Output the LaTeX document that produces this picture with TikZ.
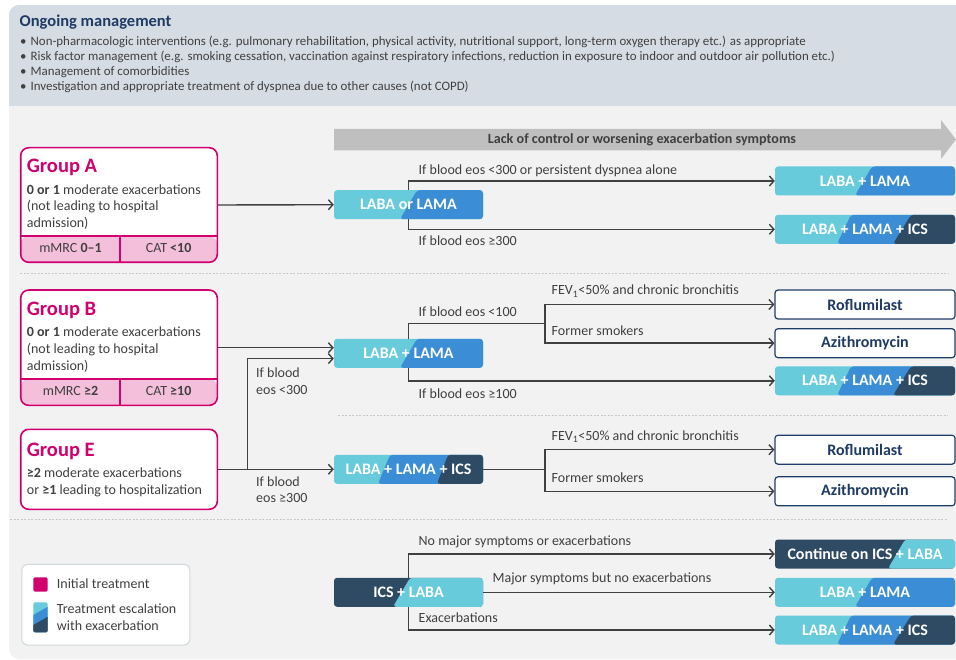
\documentclass[tikz,border=0pt]{standalone}
\usepackage{fontspec}
\setmainfont{Carlito}
\usetikzlibrary{arrows.meta,calc}
\definecolor{bggray}{HTML}{F2F2F2}
\definecolor{headblue}{HTML}{D6DCE4}
\definecolor{titleblue}{HTML}{1F3B64}
\definecolor{mag}{HTML}{D0006F}
\definecolor{pinkstrip}{HTML}{F4BFDB}
\definecolor{cyanc}{HTML}{68CBDC}
\definecolor{bluec}{HTML}{3B8ED5}
\definecolor{navyc}{HTML}{2F4A63}
\definecolor{navyline}{HTML}{1F3D6B}
\definecolor{textgray}{HTML}{404040}
\definecolor{bannergray}{HTML}{BFBFBF}
\definecolor{dashgray}{HTML}{C8C8C8}
\definecolor{legline}{HTML}{D0D8DC}
\tikzset{
  tb/.style={rounded corners=3pt, minimum width=149pt, minimum height=29pt, inner sep=0pt,
    text=white, font=\bfseries\fontsize{16}{18}\selectfont},
  rb/.style={tb, minimum width=180pt},
  wb/.style={rb, fill=white, draw=navyline, line width=1.2pt, text=titleblue},
  splittwo/.style n args={4}{path picture={
    \fill[#1] (path picture bounding box.south west) rectangle (path picture bounding box.north east);
    \fill[#2] ([xshift=#3pt]path picture bounding box.south west) -- ([xshift=#4pt]path picture bounding box.north west)
      -- ([xshift=2pt]path picture bounding box.north east) -- ([xshift=2pt]path picture bounding box.south east) -- cycle;}},
  splitthree/.style n args={4}{path picture={
    \fill[cyanc] (path picture bounding box.south west) rectangle (path picture bounding box.north east);
    \fill[bluec] ([xshift=#1pt]path picture bounding box.south west) -- ([xshift=#2pt]path picture bounding box.north west)
      -- ([xshift=2pt]path picture bounding box.north east) -- ([xshift=2pt]path picture bounding box.south east) -- cycle;
    \fill[navyc] ([xshift=#3pt]path picture bounding box.south west) -- ([xshift=#4pt]path picture bounding box.north west)
      -- ([xshift=2pt]path picture bounding box.north east) -- ([xshift=2pt]path picture bounding box.south east) -- cycle;}},
  grp/.style={draw=mag, line width=1.6pt, fill=white, rounded corners=8pt, minimum width=196.6pt, inner sep=0pt},
  strip/.style={path picture={
    \fill[pinkstrip] (path picture bounding box.south west) rectangle ([yshift=#1pt]path picture bounding box.south east);
    \draw[mag, line width=1.6pt] ([yshift=#1pt]path picture bounding box.south west) -- ([yshift=#1pt]path picture bounding box.south east);
    \draw[mag, line width=1.6pt] ([xshift=1pt]path picture bounding box.south) -- ([xshift=1pt,yshift=#1pt]path picture bounding box.south);}},
  gtitle/.style={anchor=base west, inner sep=0pt, text=mag, font=\bfseries\fontsize{20.5}{22}\selectfont},
  gtext/.style={anchor=base west, inner sep=0pt, text=textgray, font=\fontsize{14}{16}\selectfont},
  stext/.style={anchor=base, inner sep=0pt, text=textgray, font=\fontsize{14}{16}\selectfont},
  lab/.style={anchor=base west, inner sep=0pt, text=textgray, font=\fontsize{14}{16}\selectfont},
  htext/.style={anchor=base west, inner sep=0pt, text=textgray, font=\fontsize{12.9}{14}\selectfont},
  arr/.style={draw=textgray, line width=1.4pt, -{Straight Barb[length=4.5pt,width=10pt,line width=1.4pt]}},
  ln/.style={draw=textgray, line width=1.4pt},
  sep/.style={draw=dashgray, line width=0.8pt, dash pattern=on 2pt off 1.5pt},
}
\begin{document}
\begin{tikzpicture}[x=1pt,y=-1pt]
\useasboundingbox (0,0) rectangle (956,660);
\clip (0,0) rectangle (956,660);
% background
\fill[bggray, rounded corners=10pt] (9,5) rectangle (975,659);
\begin{scope}
  \clip[rounded corners=10pt] (9,5) rectangle (975,659);
  \fill[headblue] (9,5) rectangle (975,106);
\end{scope}
% header
\node[anchor=base west, inner sep=0pt, text=titleblue, font=\bfseries\fontsize{16.5}{18}\selectfont] (hd) at (19.5,26.7) {Ongoing management};
\node[htext] (h1) at (20,46) {\textbullet\hspace{4pt}Non-pharmacologic interventions (e.g. pulmonary rehabilitation, physical activity, nutritional support, long-term oxygen therapy etc.) as appropriate};
\node[htext] (h2) at (20,61) {\textbullet\hspace{4pt}Risk factor management (e.g. smoking cessation, vaccination against respiratory infections, reduction in exposure to indoor and outdoor air pollution etc.)};
\node[htext] (h3) at (20,75.5) {\textbullet\hspace{4pt}Management of comorbidities};
\node[htext] (h4) at (20,90.7) {\textbullet\hspace{4pt}Investigation and appropriate treatment of dyspnea due to other causes (not COPD)};
% banner
\fill[bannergray] (334,129) -- (941,129) -- (941,120) -- (956,139.5) -- (941,159) -- (941,150.5) -- (334,150.5) -- cycle;
\node[inner sep=0pt, text=textgray, font=\bfseries\fontsize{14.1}{15}\selectfont] (bn) at (642,140) {Lack of control or worsening exacerbation symptoms};
% separators
\draw[sep] (20,273) -- (948,273);
\draw[sep] (338,415.7) -- (948,415.7);
\draw[sep] (10,519) -- (948,519);

% ---------- Group A ----------
\node[grp, minimum height=114.6pt, strip=26.3] (gA) at (119,205) {};
\node[gtitle] (gAt) at (26.7,173) {Group A};
\node[gtext] (gA1) at (26.7,194.3) {\textbf{0 or 1} moderate exacerbations};
\node[gtext] (gA2) at (26.7,211) {(not leading to hospital};
\node[gtext] (gA3) at (26.7,227.7) {admission)};
\node[stext] (gA4) at (70.5,252.7) {mMRC \textbf{0–1}};
\node[stext] (gA5) at (168.6,252.7) {CAT \textbf{<10}};

\node[tb, splittwo={cyanc}{bluec}{66}{83}] (lol) at (408.5,204.7) {LABA or LAMA};
\node[rb, splittwo={cyanc}{bluec}{80}{97}] (rA1) at (865,181) {LABA + LAMA};
\node[rb, splitthree={62}{76}{118}{136}] (rA2) at (865,229.3) {LABA + LAMA + ICS};

\draw[arr] (gA.east) -- (lol.west);
\draw[arr] (lol.north) |- (rA1.west);
\draw[arr] (lol.south) |- (rA2.west);
\node[lab] (lA1) at (418.5,174.3) {If blood eos <300 or persistent dyspnea alone};
\node[lab] (lA2) at (418.5,246) {If blood eos ≥300};

% ---------- Group B ----------
\node[grp, minimum height=115.3pt, strip=26.6] (gB) at (119,347.7) {};
\node[gtitle] (gBt) at (26.7,316) {Group B};
\node[gtext] (gB1) at (26.7,336.7) {\textbf{0 or 1} moderate exacerbations};
\node[gtext] (gB2) at (26.7,354) {(not leading to hospital};
\node[gtext] (gB3) at (26.7,370.7) {admission)};
\node[stext] (gB4) at (70.5,395.7) {mMRC \textbf{≥2}};
\node[stext] (gB5) at (168.6,395.7) {CAT \textbf{≥10}};

\node[tb, splittwo={cyanc}{bluec}{66}{83}] (ll) at (408.5,353.3) {LABA + LAMA};
\node[wb] (rof1) at (865,304.5) {Roflumilast};
\node[wb] (azi1) at (865,343.2) {Azithromycin};
\node[rb, splitthree={62}{76}{118}{136}] (rB3) at (865,380.8) {LABA + LAMA + ICS};

\coordinate (jB) at (545,323.3);
\draw[arr] (gB.east) -- (gB.east -| ll.west);
\draw[ln] (ll.north) |- (jB);
\draw[arr] (jB) |- (rof1.west);
\draw[arr] (jB) |- (azi1.west);
\draw[arr] (ll.south) |- (rB3.west);
\node[lab] (lB0) at (418.5,316.7) {If blood eos <100};
\node[lab] (lB1) at (551.5,295) {FEV\textsubscript{1}<50\% and chronic bronchitis};
\node[lab] (lB2) at (551.5,336) {Former smokers};
\node[lab] (lB3) at (418.5,398.3) {If blood eos ≥100};

% ---------- Group E ----------
\node[grp, minimum height=80pt] (gE) at (119,469.3) {};
\node[gtitle] (gEt) at (26.7,456) {Group E};
\node[gtext] (gE1) at (26.7,477.3) {\textbf{≥2} moderate exacerbations};
\node[gtext] (gE2) at (26.7,494) {or \textbf{≥1} leading to hospitalization};

\node[tb, splitthree={44}{56}{103}{114}] (lli) at (408.5,469.3) {LABA + LAMA + ICS};
\node[wb] (rof2) at (865,449.7) {Roflumilast};
\node[wb] (azi2) at (865,491.3) {Azithromycin};

\coordinate (jE) at (247.7,469.3);
\coordinate (jE2) at (545,469.3);
\draw[arr] (gE.east) -- (lli.west);
\draw[arr] (jE) |- ($(ll.west)+(0,5.3)$);
\draw[ln] (lli.east) -- (jE2);
\draw[arr] (jE2) |- (rof2.west);
\draw[arr] (jE2) |- (azi2.west);
\node[lab] (lE1) at (256,377.7) {If blood};
\node[lab] (lE2) at (256,394.3) {eos <300};
\node[lab] (lE3) at (256,486) {If blood};
\node[lab] (lE4) at (256,502.7) {eos ≥300};
\node[lab] (lE5) at (551.5,440.7) {FEV\textsubscript{1}<50\% and chronic bronchitis};
\node[lab] (lE6) at (551.5,482.3) {Former smokers};

% ---------- ICS + LABA ----------
\node[tb, splittwo={navyc}{cyanc}{59}{76}] (il) at (408.5,592.3) {ICS + LABA};
\node[rb, splittwo={navyc}{cyanc}{113}{130}] (rC1) at (865,554) {Continue on ICS + LABA};
\node[rb, splittwo={cyanc}{bluec}{80}{97}] (rC2) at (865,592.3) {LABA + LAMA};
\node[rb, splitthree={62}{76}{118}{136}] (rC3) at (865,630) {LABA + LAMA + ICS};
\draw[arr] (il.north) |- (rC1.west);
\draw[arr] (il.east) -- (rC2.west);
\draw[arr] (il.south) |- (rC3.west);
\node[lab] (lC1) at (418.5,545.5) {No major symptoms or exacerbations};
\node[lab] (lC2) at (492.4,582.3) {Major symptoms but no exacerbations};
\node[lab] (lC3) at (418.5,622) {Exacerbations};

% ---------- Legend ----------
\node[draw=legline, line width=1pt, fill=white, rounded corners=6pt, minimum width=168pt, minimum height=80.7pt, inner sep=0pt] (leg) at (105.8,604.7) {};
\fill[mag, rounded corners=1.5pt] (33.3,577.3) rectangle (47.7,591.7);
\begin{scope}
  \clip[rounded corners=1.5pt] (33.3,602.3) rectangle (47.7,632.3);
  \fill[cyanc] (33.3,602.3) rectangle (47.7,632.3);
  \fill[bluec] (33.3,615) -- (47.7,606.7) -- (47.7,632.3) -- (33.3,632.3) -- cycle;
  \fill[navyc] (33.3,625) -- (47.7,616.7) -- (47.7,632.3) -- (33.3,632.3) -- cycle;
\end{scope}
\node[lab] (lg1) at (56.7,588.3) {Initial treatment};
\node[lab] (lg2) at (56.7,613.3) {Treatment escalation};
\node[lab] (lg3) at (56.7,630) {with exacerbation};
\end{tikzpicture}
\end{document}
